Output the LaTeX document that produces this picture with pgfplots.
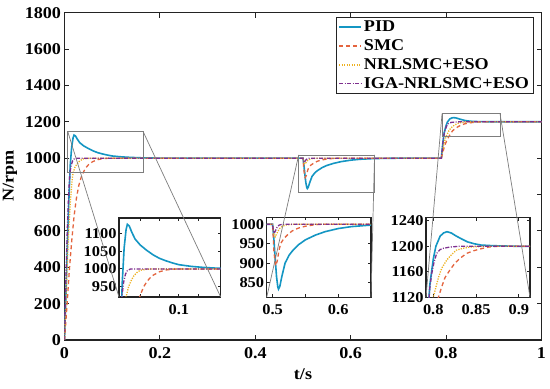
\documentclass[border=0pt]{standalone}
\usepackage{pgfplots}
\pgfplotsset{compat=1.18}
\usepackage{pgfplotstable}
\usepackage{fontspec}
\setmainfont{Liberation Serif}[FakeStretch=1.1]
\definecolor{cPID}{RGB}{20,150,195}
\definecolor{cSMC}{RGB}{228,100,62}
\definecolor{cNRL}{RGB}{237,177,32}
\definecolor{cIGA}{RGB}{126,47,142}
\definecolor{axc}{RGB}{35,35,35}
\definecolor{boxc}{RGB}{125,125,125}

\pgfplotstableread{
t v
0 0
0.003 250
0.006 520
0.009 760
0.012 960
0.015 1060
0.018 1112
0.020 1127
0.023 1122
0.027 1104
0.032 1085
0.040 1068
0.050 1053
0.060 1040
0.070 1030
0.080 1023
0.090 1017
0.100 1012
0.120 1007
0.140 1004
0.160 1002
0.200 1000
0.500 1000
0.502 960
0.504 910
0.506 865
0.508 838
0.509 833
0.511 840
0.514 865
0.519 900
0.525 920
0.530 931
0.540 948
0.550 960
0.565 972
0.580 981
0.600 989
0.620 994
0.650 998
0.700 1000
0.790 1000
0.793 1080
0.796 1140
0.800 1180
0.803 1200
0.808 1216
0.812 1221
0.816 1223
0.821 1221
0.827 1216
0.834 1211
0.840 1207
0.848 1204
0.856 1202
0.870 1201
0.900 1200
1.000 1200
}\PID

\pgfplotstableread{
t v
0 0
0.005 180
0.010 380
0.015 540
0.020 680
0.025 780
0.030 850
0.035 895
0.040 925
0.045 948
0.050 963
0.055 974
0.060 982
0.070 992
0.080 997
0.090 999
0.100 1000
0.500 1000
0.502 930
0.5045 893
0.507 905
0.510 935
0.5125 951
0.517 963
0.524 975
0.530 983
0.539 990
0.550 995
0.565 999
0.580 1000
0.790 1000
0.797 1070
0.802 1100
0.806 1120
0.810 1137
0.8137 1151
0.820 1164
0.8255 1174
0.832 1182
0.839 1189
0.847 1193
0.855 1196
0.865 1199
0.875 1200
1.000 1200
}\SMC

\pgfplotstableread{
t v
0 0
0.004 300
0.008 560
0.012 750
0.016 880
0.018 920
0.022 950
0.026 967
0.030 980
0.035 990
0.040 996
0.050 999
0.060 1000
0.500 1000
0.502 975
0.504 968
0.507 978
0.510 988
0.515 995
0.520 998
0.530 1000
0.790 1000
0.795 1075
0.800 1120
0.806 1151
0.810 1166
0.816 1179
0.822 1188
0.827 1194
0.835 1197
0.843 1199
0.860 1200
1.000 1200
}\NRL

\pgfplotstableread{
t v
0 0
0.003 350
0.006 620
0.009 820
0.0114 919
0.014 960
0.017 985
0.020 995
0.025 1000
0.500 1000
0.501 985
0.5025 977
0.504 982
0.507 993
0.510 998
0.515 1000
0.790 1000
0.794 1100
0.796 1135
0.798 1156
0.801 1176
0.804 1189
0.808 1195
0.812 1197
0.820 1199
0.830 1200
1.000 1200
}\IGA

\pgfplotsset{
  sPID/.style={cPID, line width=1.6bp, legend image code/.code={\draw[##1] (0bp,0bp) -- (22bp,0bp);}},
  sSMC/.style={cSMC, line width=1.3bp, dash pattern=on 4bp off 3bp, legend image code/.code={\draw[##1] (0bp,0bp) -- (22bp,0bp);}},
  sNRL/.style={cNRL, line width=1.3bp, dash pattern=on 1.2bp off 1.3bp, legend image code/.code={\draw[##1] (0bp,0bp) -- (22bp,0bp);}},
  sIGA/.style={cIGA, line width=1.3bp, dash pattern=on 4bp off 1.5bp on 1bp off 1.5bp, legend image code/.code={\draw[##1] (0bp,0bp) -- (22bp,0bp);}},
  common/.style={
    scale only axis,
    axis line style={axc, line width=1.1bp},
    every tick/.style={axc, line width=0.9bp},
    tick align=inside,
    /pgf/number format/assume math mode=true,
    /pgf/number format/1000 sep={},
    axis background/.style={fill=white},
  },
  inset/.style={
    common,
    anchor=south west,
    major tick length=3bp,
    tick label style={font=\fontsize{15}{16}\selectfont\bfseries},
    xticklabel style={yshift=-4bp},
    yticklabel style={xshift=1bp},
  },
}

\begin{document}
\begin{tikzpicture}
\begin{axis}[common,
  width=477bp, height=327.3bp,
  xmin=0, xmax=1, ymin=0, ymax=1800,
  xtick={0,0.2,0.4,0.6,0.8,1},
  ytick={0,200,400,600,800,1000,1200,1400,1600,1800},
  major tick length=5bp,
  tick label style={font=\fontsize{16.5}{18}\selectfont\bfseries},
  xticklabel style={yshift=-4bp},
  label style={font=\fontsize{16.5}{18}\selectfont\bfseries},
  xlabel={t/s}, ylabel={N/rpm},
  xlabel style={at={(axis description cs:0.5,0)}, anchor=center, yshift=-34bp},
  ylabel style={at={([xshift=-54.5bp]axis description cs:0,0.5)}, anchor=center},
  legend style={at={(0.569,0.988)}, anchor=north west, draw=axc, line width=0.9bp,
    font=\fontsize{16.5}{18}\selectfont\bfseries, inner xsep=2bp, inner ysep=2bp,
    row sep=2.5bp, cells={anchor=west}},
]
\addplot[sPID] table[x=t,y=v]{\PID};
\addlegendentry{PID}
\addplot[sSMC] table[x=t,y=v]{\SMC};
\addlegendentry{SMC}
\addplot[sNRL] table[x=t,y=v]{\NRL};
\addlegendentry{NRLSMC+ESO}
\addplot[sIGA] table[x=t,y=v]{\IGA};
\addlegendentry{IGA-NRLSMC+ESO}
\draw[boxc, line width=0.7bp] (axis cs:0.007,920) rectangle (axis cs:0.165,1145);
\draw[boxc, line width=0.7bp] (axis cs:0.491,812) rectangle (axis cs:0.65,1018);
\draw[boxc, line width=0.7bp] (axis cs:0.7915,1120) rectangle (axis cs:0.913,1245);
\coordinate (r1l) at (axis cs:0.007,1145);
\coordinate (r1r) at (axis cs:0.165,1145);
\coordinate (r2l) at (axis cs:0.491,1018);
\coordinate (r2r) at (axis cs:0.65,1018);
\coordinate (r3l) at (axis cs:0.7915,1245);
\coordinate (r3r) at (axis cs:0.913,1245);
\end{axis}

\begin{axis}[inset, at={(54.5bp,43bp)}, width=101.7bp, height=79bp,
  xmin=0.007, xmax=0.165, ymin=920, ymax=1145,
  xtick={0.04,0.07,0.1,0.13}, xticklabels={,,0.1,},
  ytick={950,1000,1050,1100}]
\addplot[sPID] table[x=t,y=v]{\PID};
\addplot[sSMC] table[x=t,y=v]{\SMC};
\addplot[sNRL] table[x=t,y=v]{\NRL};
\addplot[sIGA] table[x=t,y=v]{\IGA};
\coordinate (i1l) at (rel axis cs:0,0);
\coordinate (i1r) at (rel axis cs:1,0);
\end{axis}

\begin{axis}[inset, at={(202.2bp,42.7bp)}, width=104.3bp, height=80bp,
  xmin=0.491, xmax=0.65, ymin=812, ymax=1018,
  xtick={0.5,0.55,0.6}, xticklabels={0.5,,0.6},
  ytick={850,900,950,1000}]
\addplot[sPID] table[x=t,y=v]{\PID};
\addplot[sSMC] table[x=t,y=v]{\SMC};
\addplot[sNRL] table[x=t,y=v]{\NRL};
\addplot[sIGA] table[x=t,y=v]{\IGA};
\coordinate (i2l) at (rel axis cs:0,0);
\coordinate (i2r) at (rel axis cs:1,0);
\end{axis}

\begin{axis}[inset, at={(361.5bp,42.7bp)}, width=104bp, height=79.6bp,
  xmin=0.7915, xmax=0.913, ymin=1120, ymax=1245,
  xtick={0.8,0.85,0.9}, xticklabels={0.8,0.85,0.9},
  ytick={1120,1160,1200,1240}]
\addplot[sPID] table[x=t,y=v]{\PID};
\addplot[sSMC] table[x=t,y=v]{\SMC};
\addplot[sNRL] table[x=t,y=v]{\NRL};
\addplot[sIGA] table[x=t,y=v]{\IGA};
\coordinate (i3l) at (rel axis cs:0,0);
\coordinate (i3r) at (rel axis cs:1,0);
\end{axis}

\draw[boxc, line width=0.7bp] (r1l) -- (i1l) (r1r) -- (i1r)
  (r2l) -- (i2l) (r2r) -- (i2r) (r3l) -- (i3l) (r3r) -- (i3r);

\pgfresetboundingbox
\path (-64.5bp,-49bp) rectangle (485.5bp,340bp);
\end{tikzpicture}
\end{document}
